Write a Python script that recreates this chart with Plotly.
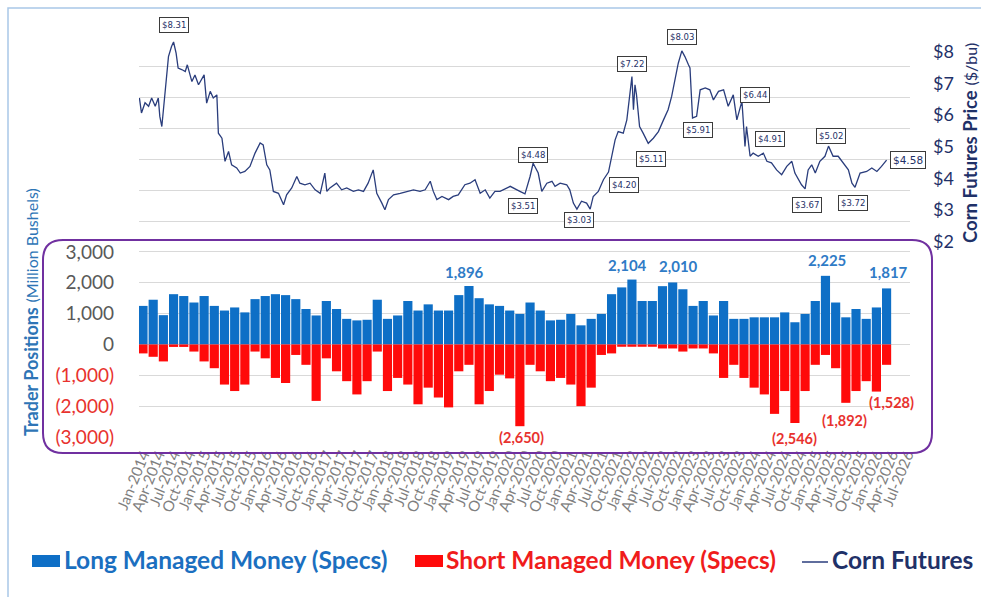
import plotly.graph_objects as go

# ---------------- data ----------------
# x unit: months since Jan-2014 (axis labels are quarterly)
mon_names = ["Jan", "Apr", "Jul", "Oct"]
tick_months = list(range(0, 151, 3))
tick_labels = [f"{mon_names[(m % 12) // 3]}-{2014 + m // 12}" for m in tick_months]

bar_months = list(range(0, 148, 2))
long_mm = [1250, 1450, 950, 1630, 1570, 1360, 1570, 1250, 1100, 1200,
           1040, 1470, 1570, 1630, 1600, 1470, 1150, 940, 1410, 1150,
           830, 780, 800, 1450, 830, 940, 1410, 1100, 1300, 1100,
           1100, 1600, 1896, 1500, 1300, 1250, 1100, 990, 1360, 1100,
           780, 800, 990, 620, 830, 990, 1630, 1850, 2104, 1410,
           1410, 1890, 2010, 1790, 1250, 1410, 940, 1410, 830, 830,
           880, 880, 880, 1040, 720, 990, 1410, 2225, 1360, 880,
           1150, 830, 1200, 1817]
short_mm = [-290, -400, -550, -80, -80, -230, -550, -770, -1300, -1510,
            -1300, -230, -450, -1085, -1250, -340, -660, -1830, -450, -870,
            -1190, -1620, -1190, -230, -1510, -1085, -1300, -1940, -1400, -1720,
            -2040, -870, -660, -1940, -1510, -980, -1100, -2650, -660, -870,
            -1190, -1085, -1300, -2000, -1400, -340, -290, -75, -75, -75,
            -75, -130, -130, -230, -130, -130, -290, -1085, -660, -1085,
            -1400, -1620, -2250, -1510, -2546, -1510, -660, -340, -770, -1892,
            -1510, -1190, -1528, -660]

price_months = [-0.7, -0.3, 0.4, 1.1, 1.7, 2.4, 3.0, 3.3, 3.7, 4.3, 5.0, 5.6, 6.0, 6.5, 6.9, 7.6, 8.3, 8.7,
                9.6, 10.2, 10.9, 12.0, 12.5, 13.2, 13.8, 14.5, 14.8, 15.5, 16.1, 16.8, 17.4, 18.4, 19.1,
                20.0, 21.0, 22.0, 23.0, 23.6, 24.3, 24.9, 25.6, 26.6, 27.6, 28.2, 29.2, 30.2, 30.8, 31.8,
                32.8, 33.8, 34.8, 35.7, 36.1, 36.7, 38.0, 39.0, 40.0, 41.3, 42.3, 43.3, 44.2, 45.2, 45.9,
                46.9, 47.5, 48.2, 49.2, 50.5, 51.8, 53.1, 54.4, 55.4, 56.4, 57.0, 57.7, 58.7, 60.0, 60.9,
                61.9, 63.2, 64.2, 65.2, 66.2, 67.2, 68.1, 69.1, 70.1, 72.1, 74.0, 75.0, 76.0, 76.6, 77.6,
                78.3, 79.3, 80.3, 80.9, 81.9, 83.2, 83.8, 84.5, 85.2, 86.1, 87.1, 87.8, 88.4, 89.4, 90.4,
                91.4, 92.0, 92.7, 93.3, 94.3, 95.0, 95.6, 96.0, 96.3, 96.6, 96.9, 97.5, 98.2, 99.2, 100.2,
                101.2, 102.2, 103.1, 103.8, 104.5, 105.1, 105.8, 106.4, 107.1, 107.4, 107.9, 108.7, 109.4,
                110.4, 111.3, 112.0, 113.0, 114.0, 114.9, 115.9, 116.6, 117.6, 118.2, 118.5, 119.2, 119.8,
                120.8, 121.8, 122.5, 123.4, 124.4, 125.4, 126.4, 127.4, 128.0, 128.7, 129.3, 130.0, 130.6,
                131.3, 132.0, 132.9, 133.9, 134.6, 135.5, 136.5, 137.5, 138.5, 139.2, 139.8, 140.8, 142.1,
                143.1, 144.1, 145.0, 146.0]
corn_price = [6.54, 6.07, 6.39, 6.28, 6.54, 6.28, 6.54, 5.96, 5.64, 6.59, 7.85, 8.17, 8.31, 7.96, 7.49, 7.44, 7.38, 7.59,
              7.06, 7.27, 6.96, 7.27, 6.38, 6.75, 6.54, 6.64, 5.43, 5.27, 4.54, 4.85, 4.43, 4.33, 4.17,
              4.22, 4.38, 4.80, 5.12, 5.06, 4.43, 4.27, 3.59, 3.53, 3.17, 3.48, 3.70, 4.06, 3.85, 3.80,
              3.85, 3.64, 3.53, 4.17, 3.59, 3.70, 3.85, 3.64, 3.70, 3.59, 3.64, 3.59, 3.85, 4.27, 3.53,
              3.22, 3.01, 3.33, 3.48, 3.53, 3.59, 3.64, 3.59, 3.64, 3.91, 3.59, 3.33, 3.43, 3.33, 3.43,
              3.48, 3.80, 3.85, 3.96, 3.53, 3.64, 3.38, 3.59, 3.59, 3.75, 3.59, 3.51, 4.06, 4.48, 4.17,
              3.59, 3.85, 3.91, 3.75, 3.85, 3.80, 3.64, 3.22, 3.03, 3.28, 3.22, 3.03, 3.43, 3.59, 3.96,
              4.20, 4.70, 5.22, 5.48, 5.43, 5.85, 6.70, 7.22, 6.17, 6.96, 6.64, 5.64, 5.43, 5.11, 5.27,
              5.48, 5.85, 6.17, 6.59, 7.12, 7.64, 8.03, 7.85, 7.59, 7.49, 5.91, 5.96, 6.80,
              6.86, 6.80, 6.48, 6.75, 6.80, 6.28, 6.64, 5.85, 6.44, 5.01, 5.64, 4.70, 4.80,
              4.70, 4.80, 4.54, 4.49, 4.27, 4.12, 4.38, 4.54, 4.17, 3.96, 3.80, 3.67, 4.27,
              4.43, 4.17, 4.54, 4.70, 5.02, 4.70, 4.70, 4.49, 4.27, 3.85, 3.72, 4.17, 4.22,
              4.33, 4.22, 4.38, 4.58]

# price call-outs: month, value, (x shift px, y shift px)
price_lbl_months = [6.0, 75.0, 76.6, 85.2, 91.4, 96.0, 99.2, 105.8, 107.9, 117.6, 119.2, 130.0, 134.6, 139.8, 146.0]
price_lbl_values = [8.31, 3.51, 4.48, 3.03, 4.20, 7.22, 5.11, 8.03, 5.91, 6.44, 4.91, 3.67, 5.02, 3.72, 4.58]
price_lbl_shift = [(0, 17), (-2, -12), (0, 8), (2, -11), (15, -13), (0, 13), (3, -16), (0, 14), (5, -12),
                   (13, 6), (20, 11), (2, -16), (2, 10), (-2, -16), (21, 0)]

long_lbl_idx = [32, 48, 52, 67, 73]
long_lbl_shift = [(-4, 14), (-4, 15), (6, 16), (2, 16), (2, 16)]
short_lbl_idx = [37, 64, 69, 72]
short_lbl_shift = [(2, -11), (0, -15), (-1, -18), (15, -11)]

left_ticks = list(range(-3000, 10001, 1000))
price_ticks = [2, 3, 4, 5, 6, 7, 8]

# ---------------- style ----------------
BLUE = "#0e6fc6"
RED = "#ff0a0a"
NAVY = "#1f3168"
LINE = "#2a3d7c"
FONT = "Lato"

W, H = 981, 597
ML, MR, MT, MB = 139, 71, 36, 160
PW, PH = W - ML - MR, H - MT - MB


def px(x):
    return (x - ML) / PW


def py(y):
    return (H - MB - y) / PH


def fmt(v):
    return f"{abs(v):,}"


left_text = []
for v in left_ticks:
    if v > 3000:
        left_text.append("")
    elif v < 0:
        left_text.append(f"<span style='color:#e8322e'>({fmt(v)})</span>")
    else:
        left_text.append(fmt(v))

fig = go.Figure()
fig.add_trace(go.Bar(x=bar_months, y=long_mm, marker=dict(color=BLUE, line=dict(width=0)),
                     name="Long Managed Money (Specs)", yaxis="y"))
fig.add_trace(go.Bar(x=bar_months, y=short_mm, marker=dict(color=RED, line=dict(width=0)),
                     name="Short Managed Money (Specs)", yaxis="y"))
fig.add_trace(go.Scatter(x=price_months, y=corn_price, mode="lines", line=dict(color=LINE, width=1.3),
                         name="Corn Futures", yaxis="y2"))

ann = []
for m, v, (dx, dy) in zip(price_lbl_months, price_lbl_values, price_lbl_shift):
    big = m == price_lbl_months[-1]
    ann.append(dict(x=m, y=v, xref="x", yref="y2", text=f"${v:.2f}", showarrow=False,
                    xshift=dx, yshift=dy, bgcolor="white", bordercolor="#3b3b3b", borderwidth=1,
                    borderpad=2,
                    font=dict(family="DejaVu Sans", size=8.5 if not big else 10.5, color=NAVY)))
for i, (dx, dy) in zip(long_lbl_idx, long_lbl_shift):
    ann.append(dict(x=bar_months[i], y=long_mm[i], xref="x", yref="y", text=f"<b>{long_mm[i]:,}</b>",
                    showarrow=False, xshift=dx, yshift=dy,
                    font=dict(family=FONT, size=15, color="#2f7bc6")))
for i, (dx, dy) in zip(short_lbl_idx, short_lbl_shift):
    ann.append(dict(x=bar_months[i], y=short_mm[i], xref="x", yref="y", text=f"<b>({fmt(short_mm[i])})</b>",
                    showarrow=False, xshift=dx, yshift=dy,
                    font=dict(family=FONT, size=14.5, color="#e8322e")))

# axis titles
ann.append(dict(x=px(31), y=py(312), xref="paper", yref="paper", textangle=-90, showarrow=False,
                xanchor="center", yanchor="middle",
                text="<b>Trader Positions</b> <span style='font-size:16px'>(Million Bushels)</span>",
                font=dict(family=FONT, size=18, color="#2e75b6")))
ann.append(dict(x=px(970), y=py(143), xref="paper", yref="paper", textangle=-90, showarrow=False,
                xanchor="center", yanchor="middle",
                text="<b>Corn Futures Price</b> <span style='font-size:16px'>($/bu)</span>",
                font=dict(family=FONT, size=18.5, color=NAVY)))

# custom legend
leg_y = py(559)
ann.append(dict(x=px(62), y=leg_y, xref="paper", yref="paper", xanchor="left", yanchor="middle",
                showarrow=False, text="<b>Long Managed Money (Specs)</b>",
                font=dict(family=FONT, size=24.5, color="#1b6fc0")))
ann.append(dict(x=px(444), y=leg_y, xref="paper", yref="paper", xanchor="left", yanchor="middle",
                showarrow=False, text="<b>Short Managed Money (Specs)</b>",
                font=dict(family=FONT, size=24.5, color="#f01c1c")))
ann.append(dict(x=px(830), y=leg_y, xref="paper", yref="paper", xanchor="left", yanchor="middle",
                showarrow=False, text="<b>Corn Futures</b>",
                font=dict(family=FONT, size=24.5, color=NAVY)))

shapes = []
# outer light-blue frame
shapes.append(dict(type="rect", xref="paper", yref="paper", x0=px(8), x1=px(995), y0=py(610), y1=py(8),
                   line=dict(color="#a9c8e8", width=1.5), fillcolor="rgba(0,0,0,0)", layer="below"))
# purple rounded box around trader positions
x0, x1, y0, y1, r = 43, 932, 240, 453, 20
path = (f"M {px(x0 + r)},{py(y0)} L {px(x1 - r)},{py(y0)} Q {px(x1)},{py(y0)} {px(x1)},{py(y0 + r)} "
        f"L {px(x1)},{py(y1 - r)} Q {px(x1)},{py(y1)} {px(x1 - r)},{py(y1)} "
        f"L {px(x0 + r)},{py(y1)} Q {px(x0)},{py(y1)} {px(x0)},{py(y1 - r)} "
        f"L {px(x0)},{py(y0 + r)} Q {px(x0)},{py(y0)} {px(x0 + r)},{py(y0)} Z")
shapes.append(dict(type="path", xref="paper", yref="paper", path=path,
                   line=dict(color="#7030a0", width=2)))
# legend keys
shapes.append(dict(type="rect", xref="paper", yref="paper", x0=px(32), x1=px(60), y0=py(567), y1=py(555),
                   fillcolor=BLUE, line=dict(width=0)))
shapes.append(dict(type="rect", xref="paper", yref="paper", x0=px(415), x1=px(443), y0=py(567), y1=py(555),
                   fillcolor=RED, line=dict(width=0)))
shapes.append(dict(type="line", xref="paper", yref="paper", x0=px(802), x1=px(828), y0=py(562), y1=py(562),
                   line=dict(color=LINE, width=1.5)))

fig.update_layout(
    width=W, height=H, autosize=False,
    margin=dict(l=ML, r=MR, t=MT, b=MB, pad=0),
    plot_bgcolor="white", paper_bgcolor="white",
    barmode="relative", bargap=0.1,
    showlegend=False,
    font=dict(family=FONT),
    xaxis=dict(range=[(ML - 143) / 5.093, (W - MR - 143) / 5.093], tickmode="array",
               tickvals=tick_months, ticktext=tick_labels, tickangle=-68,
               tickfont=dict(family=FONT, size=15, color="#7f7f7f"),
               showgrid=False, zeroline=False, showline=False, ticks="", ticklabelstandoff=5),
    yaxis=dict(range=[-3000, 10000], tickmode="array", tickvals=left_ticks, ticktext=left_text,
               tickfont=dict(family=FONT, size=19, color="#595959"), gridcolor="#d9d9d9", gridwidth=1,
               zeroline=False, showline=False, ticks="", ticklabelstandoff=24),
    yaxis2=dict(range=[-4.17, 8.5], overlaying="y", side="right", tickmode="array",
                tickvals=price_ticks, ticktext=[f"${t}" for t in price_ticks],
                tickfont=dict(family=FONT, size=18, color=NAVY), showgrid=False, zeroline=False,
                showline=False, ticks="", ticklabelstandoff=22),
    annotations=ann,
    shapes=shapes,
)

fig.write_html("out.html", config={"displayModeBar": False},
               post_script="document.body.style.margin='0';document.body.style.padding='0';")
